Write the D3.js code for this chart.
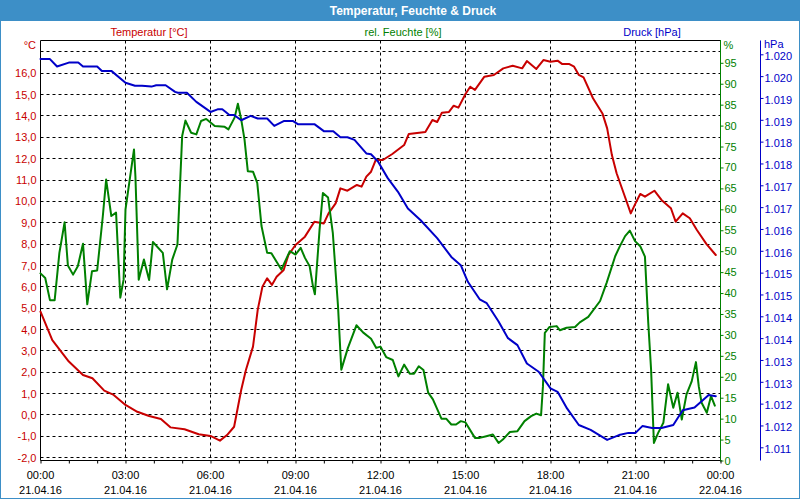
<!DOCTYPE html>
<html><head><meta charset="utf-8">
<script src="https://cdn.jsdelivr.net/npm/d3@7"></script>
<style>
body{margin:0;background:#fff}
svg{display:block;font-family:"Liberation Sans",Arial,sans-serif}
</style>
</head><body><svg id="c" width="800" height="500"></svg>
<script>
// ---------- data ----------
const chartTitle = "Temperatur, Feuchte & Druck";
const seriesNames = ["Temperatur [°C]", "rel. Feuchte [%]", "Druck [hPa]"];
const unitLabels = ["°C", "%", "hPa"];
const xTickMinutes = [0, 180, 360, 540, 720, 900, 1080, 1260, 1440];
const xTimeLabels = ["00:00","03:00","06:00","09:00","12:00","15:00","18:00","21:00","00:00"];
const xDateLabels = ["21.04.16","21.04.16","21.04.16","21.04.16","21.04.16","21.04.16","21.04.16","21.04.16","22.04.16"];

// minutes since 00:00 of 21.04.16
const tempTimes = [0,25,60,90,110,135,155,180,205,230,255,275,305,335,360,380,395,410,425,435,450,460,470,480,490,500,515,525,540,560,580,600,610,625,635,650,670,680,690,700,710,725,745,770,780,815,830,840,850,865,875,885,900,910,920,940,960,980,1000,1020,1030,1050,1065,1080,1095,1105,1120,1130,1140,1150,1170,1190,1200,1210,1220,1235,1250,1260,1270,1280,1300,1315,1335,1345,1360,1375,1390,1410,1430];
const tempValues = [4.84,3.51,2.50,1.87,1.72,1.14,0.94,0.47,0.15,-0.05,-0.19,-0.58,-0.67,-0.90,-0.98,-1.20,-0.94,-0.55,1.17,2.11,3.20,4.92,6.01,6.40,6.09,6.47,6.79,7.49,7.96,8.35,9.05,8.97,9.44,9.91,10.61,10.50,10.77,10.69,11.16,11.39,11.94,11.94,12.22,12.64,13.16,13.25,13.81,13.72,14.15,14.19,14.48,14.39,15.03,15.37,15.22,15.84,15.92,16.23,16.35,16.23,16.57,16.20,16.62,16.54,16.59,16.43,16.43,16.31,15.92,15.81,14.83,14.12,13.42,12.17,11.32,10.38,9.44,9.91,10.35,10.22,10.50,10.07,9.68,9.05,9.44,9.21,8.66,8.01,7.49];

const humTimes = [0,10,20,30,40,51,58,69,79,90,99,109,120,132,139,150,160,169,176,180,198,201,208,219,230,238,259,268,279,290,300,307,319,330,340,351,369,390,398,411,418,425,432,439,450,459,468,480,489,510,528,540,551,560,570,577,581,591,598,609,619,630,637,651,669,683,700,711,720,732,746,758,770,782,791,801,811,821,831,849,859,870,880,890,900,920,930,944,958,970,979,994,1010,1025,1039,1050,1060,1064,1068,1078,1093,1100,1114,1132,1142,1160,1185,1199,1217,1227,1238,1248,1259,1270,1280,1287,1293,1299,1308,1319,1329,1340,1349,1358,1368,1379,1388,1394,1400,1411,1420,1428];
const humValues = [44.7,43.6,38.3,38.3,49.6,56.9,46.6,44.4,46.4,51.8,37.3,45.2,45.4,58.4,67.1,58.4,59.2,38.9,43.2,60.0,74.3,67.9,43.2,48.0,43.1,52.2,49.6,40.9,48.0,51.6,77.5,81.2,78.3,77.9,81.1,81.6,79.9,79.7,79.1,81.9,85.2,81.5,76.7,69.1,69.0,66.3,56.0,49.6,49.5,45.6,50.0,49.2,50.8,48.4,46.4,41.6,39.7,55.2,63.9,62.8,54.4,36.9,21.7,26.9,32.3,30.6,29.1,26.9,27.2,24.7,24.0,20.1,22.9,20.7,20.7,22.5,21.6,16.2,14.6,10.0,10.0,8.6,8.6,9.4,9.1,5.4,5.4,5.8,6.2,4.2,5.0,6.8,7.0,9.4,10.6,11.2,10.8,17.7,30.5,31.9,32.1,31.1,31.7,31.9,33.0,34.3,38.1,42.5,48.8,51.2,53.6,54.9,52.4,51.2,48.7,32.9,21.7,4.2,6.6,9.0,18.2,12.6,16.2,9.8,15.8,18.9,23.5,17.7,13.8,11.4,15.4,13.1];

const pressTimes = [0,20,35,60,80,90,120,130,150,180,200,215,235,245,265,285,291,310,330,360,375,385,400,410,425,445,460,480,495,515,535,545,580,600,620,635,650,665,690,700,715,735,757,778,805,840,870,890,905,930,945,970,990,1010,1030,1055,1080,1095,1115,1140,1165,1200,1225,1245,1260,1275,1295,1315,1340,1360,1385,1415,1430];
const pressValues = [1019.89,1019.89,1019.72,1019.81,1019.81,1019.72,1019.72,1019.62,1019.62,1019.35,1019.28,1019.28,1019.26,1019.29,1019.29,1019.14,1019.12,1019.12,1018.91,1018.68,1018.74,1018.74,1018.61,1018.61,1018.49,1018.59,1018.53,1018.53,1018.36,1018.47,1018.47,1018.40,1018.40,1018.24,1018.24,1018.10,1018.10,1018.04,1017.73,1017.71,1017.54,1017.17,1016.85,1016.47,1016.20,1015.79,1015.36,1015.17,1014.79,1014.39,1014.30,1013.88,1013.50,1013.34,1012.92,1012.73,1012.35,1012.27,1011.89,1011.51,1011.40,1011.17,1011.28,1011.33,1011.33,1011.49,1011.44,1011.44,1011.51,1011.85,1011.91,1012.20,1012.17];

const tempTicks = d3.range(-2, 17, 1);
const humTicks = d3.range(0, 96, 5);
const pressTicks = d3.range(1011, 1020.01, 0.5);

// ---------- styles ----------
const RED = "#c80000", GREEN = "#008000", BLUE = "#0000c8", FRAME = "#3d8fc7";
const de = d3.formatLocale({decimal: ",", thousands: ".", grouping: [3], currency: ["", "€"], minus: "-"});

const svg = d3.select("#c");
const L = 40.5, R = 720.5, TOP = 40.5, BOT = 460.5;

const x = d3.scaleLinear().domain([0, 1440]).range([L, R]);
const yT = d3.scaleLinear().domain([-2, 17]).range([457.7, 51.9]);
const yH = d3.scaleLinear().domain([0, 95]).range([460.5, 62.8]);
const yP = d3.scaleLinear().domain([1011, 1020]).range([447.3, 54.3]);

// frame & title
svg.append("rect").attr("x", 0).attr("y", 0).attr("width", 800).attr("height", 500).attr("fill", "#fff");
svg.append("rect").attr("x", 0).attr("y", 0).attr("width", 800).attr("height", 21).attr("fill", FRAME);
svg.append("rect").attr("x", 0.5).attr("y", 0.5).attr("width", 799).attr("height", 498)
  .attr("fill", "none").attr("stroke", FRAME);
svg.append("text").attr("x", 413).attr("y", 14.5).attr("text-anchor", "middle")
  .attr("fill", "#fff").attr("font-weight", "bold").attr("font-size", 12).text(chartTitle);

// series names
const nameX = [149, 403, 652], nameCol = [RED, GREEN, BLUE];
seriesNames.forEach((n, i) => svg.append("text").attr("x", nameX[i]).attr("y", 36)
  .attr("text-anchor", "middle").attr("font-size", 11).attr("fill", nameCol[i]).text(n));

// grid
const grid = svg.append("g").attr("stroke", "#000").attr("stroke-dasharray", "3,3").attr("stroke-width", 1);
grid.selectAll("line.h").data(tempTicks.concat([17])).join("line").attr("class", "h")
  .attr("x1", L).attr("x2", R).attr("y1", d => Math.floor(yT(d)) + 0.5).attr("y2", d => Math.floor(yT(d)) + 0.5);
grid.selectAll("line.v").data(xTickMinutes.slice(1, -1)).join("line").attr("class", "v")
  .attr("y1", TOP).attr("y2", BOT).attr("x1", d => x(d)).attr("x2", d => x(d));

// frame lines
svg.append("line").attr("x1", L).attr("x2", R).attr("y1", TOP).attr("y2", TOP).attr("stroke", "#000");
svg.append("line").attr("x1", L).attr("x2", L).attr("y1", TOP).attr("y2", BOT).attr("stroke", "#000");
svg.append("line").attr("x1", L).attr("x2", R + 1).attr("y1", BOT).attr("y2", BOT).attr("stroke", "#000");

// left axis (temperature)
const axL = svg.append("g").attr("transform", `translate(${L},0)`)
  .call(d3.axisLeft(yT).tickValues(tempTicks).tickSize(0).tickPadding(4).tickFormat(de.format(",.1f")));
axL.select(".domain").remove();
axL.selectAll("text").attr("fill", RED).attr("font-size", 11).attr("font-family", "Liberation Sans, Arial, sans-serif");
svg.append("text").attr("x", 36).attr("y", 49).attr("text-anchor", "end").attr("font-size", 11).attr("fill", RED).text(unitLabels[0]);

// green axis (humidity)
const axH = svg.append("g").attr("transform", `translate(${R},0)`)
  .call(d3.axisRight(yH).tickValues(humTicks).tickSize(3).tickSizeOuter(0).tickPadding(1).tickFormat(d3.format("d")));
axH.select(".domain").remove();
axH.selectAll("line").attr("stroke", GREEN);
axH.selectAll("text").attr("fill", GREEN).attr("font-size", 11).attr("font-family", "Liberation Sans, Arial, sans-serif");
svg.append("line").attr("x1", R).attr("x2", R).attr("y1", TOP - 0.5).attr("y2", BOT + 1).attr("stroke", GREEN);
svg.append("text").attr("x", 723.5).attr("y", 48.5).attr("font-size", 11).attr("fill", GREEN).text(unitLabels[1]);

// blue axis (pressure)
const PX = 760.5;
const axP = svg.append("g").attr("transform", `translate(${PX},0)`)
  .call(d3.axisRight(yP).tickValues(pressTicks).tickSize(3).tickSizeOuter(0).tickPadding(1).tickFormat(de.format(",.0f")));
axP.select(".domain").remove();
axP.selectAll("line").attr("stroke", BLUE);
axP.selectAll("text").attr("fill", BLUE).attr("font-size", 11).attr("font-family", "Liberation Sans, Arial, sans-serif")
  .attr("dy", "0.48em");
svg.append("line").attr("x1", PX).attr("x2", PX).attr("y1", TOP).attr("y2", BOT).attr("stroke", BLUE);
svg.append("text").attr("x", 764).attr("y", 47.5).attr("font-size", 11).attr("fill", BLUE).text(unitLabels[2]);

// bottom axis
const axB = svg.append("g").attr("transform", `translate(0,${BOT})`)
  .call(d3.axisBottom(x).tickValues(d3.range(0, 1441, 60)).tickSize(3).tickSizeOuter(0).tickFormat(""));
axB.select(".domain").remove();
axB.selectAll("line").attr("stroke", "#000");
const xl = svg.append("g").attr("font-size", 11).attr("fill", "#000").attr("text-anchor", "middle");
xl.selectAll("text.t").data(xTickMinutes).join("text").attr("class", "t")
  .attr("x", d => x(d)).attr("y", 479).text((d, i) => xTimeLabels[i]);
xl.selectAll("text.d").data(xTickMinutes).join("text").attr("class", "d")
  .attr("x", d => x(d)).attr("y", 494).text((d, i) => xDateLabels[i]);

// series lines
function draw(times, values, ys, col) {
  const pts = times.map((t, i) => [t, values[i]]);
  svg.append("path").datum(pts)
    .attr("d", d3.line().x(d => x(d[0])).y(d => ys(d[1])))
    .attr("fill", "none").attr("stroke", col).attr("stroke-width", 2)
    .attr("stroke-linejoin", "round").attr("stroke-linecap", "round");
}
draw(tempTimes, tempValues, yT, RED);
draw(humTimes, humValues, yH, GREEN);
draw(pressTimes, pressValues, yP, BLUE);
</script>
</body></html>
